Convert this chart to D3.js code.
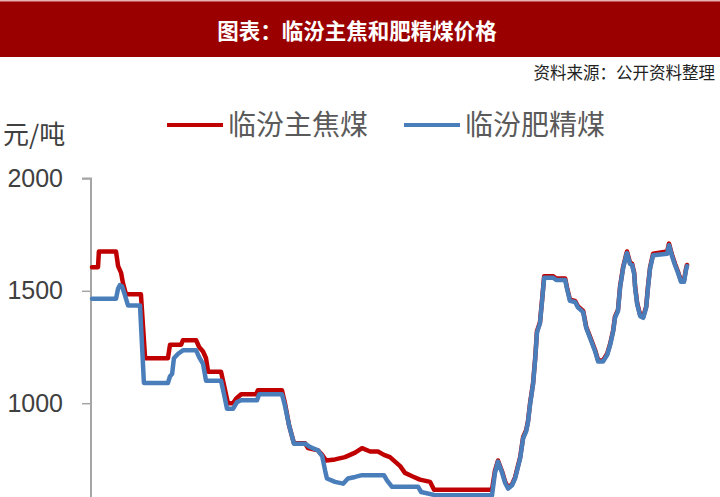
<!DOCTYPE html>
<html><head><meta charset="utf-8">
<script src="https://cdn.jsdelivr.net/npm/d3@7"></script>
<style>
html,body{margin:0;padding:0;background:#fff;}
svg{display:block;}
</style></head>
<body>
<svg id="c" width="720" height="497"></svg>
<script>
const titleText = "图表：临汾主焦和肥精煤价格";
const sourceText = "资料来源：公开资料整理";
const unitText = "元/吨";
const seriesNames = ["临汾主焦煤", "临汾肥精煤"];
const yTicks = [1000, 1500, 2000];

// week index and price (元/吨) for 临汾主焦煤
const cokingWeek = [0,2,2.3,8,8.7,9.7,10.3,11.3,16.3,17.7,25.3,26,29.7,30.3,34.7,35.7,37,38,38.7,43,44,45.3,47,48,49.7,54.7,55.3,63.3,64.3,65.7,67.3,71,72,75.3,76.7,78,81,84.3,87.7,90,92.7,95.3,97.3,99.3,101,102.7,104.3,106.7,109.3,112.7,114,133.3,134.3,135.3,136.7,137.7,138.7,140,141,142.7,143.7,144.7,145.3,146,147,147.7,148.3,149.3,150,150.7,153.7,154.7,157.7,158.3,159.3,161,162,163.7,164.7,166,167.7,168.7,170.3,171.7,172.7,173.7,174.3,175.3,176,177,178,178.3,179.3,180,180.7,181,181.7,182.7,183.7,184.7,185.3,186,187,191.7,192.3,193.3,194.3,195.3,196.3,197.3,198,198.3];
const cokingPrice = [1605,1605,1675,1675,1610,1580,1535,1485,1485,1200,1200,1260,1260,1280,1280,1250,1230,1200,1140,1140,1080,1000,1000,1020,1040,1040,1058,1058,1000,900,822,822,800,790,770,745,750,760,780,800,785,785,770,760,740,720,690,675,660,650,615,615,700,745,695,650,625,640,670,760,850,880,920,1000,1090,1200,1320,1360,1460,1565,1565,1555,1555,1515,1460,1455,1430,1410,1340,1295,1235,1190,1190,1220,1265,1325,1385,1415,1520,1605,1660,1675,1625,1620,1580,1520,1445,1392,1385,1430,1520,1605,1665,1675,1710,1660,1620,1585,1545,1545,1600,1615];

// week index and price (元/吨) for 临汾肥精煤
const fatWeek = [0,8,8.7,9.3,10,11,12,16,16.7,17.3,25.3,26,26.7,27.3,28.7,30.3,34.7,35.7,37,38,43,44,45,47,48.3,49.7,55,55.7,63.3,64.3,65.7,67.3,71,72.7,75.3,76.7,77.7,78.3,81,83.7,85.3,87.7,90,97.3,98.3,100,108.7,109.7,114.7,133.3,134.3,135.3,136.7,137.7,138.7,140,141,142.7,143.7,144.7,145.3,146,147,147.7,148.3,149.3,150,150.7,153.7,154.7,157.7,158.3,159.3,161,162,163.7,164.7,166,167.7,168.7,170.3,171.7,172.7,173.7,174.3,175.3,176,177,178,178.3,179.3,180,180.7,181,181.7,182.7,183.7,184.7,185.3,186,187,191.7,192.3,193.3,194.3,195.3,196.3,197.3,198,198.3];
const fatPrice = [1465,1465,1510,1525,1520,1480,1435,1435,1250,1090,1090,1120,1130,1200,1220,1235,1235,1205,1175,1100,1100,1040,975,975,1005,1013,1013,1040,1040,990,900,820,820,805,790,765,700,665,650,642,665,672,680,680,657,628,628,605,590,590,690,740,690,645,620,635,665,755,845,875,915,995,1085,1195,1315,1355,1455,1558,1558,1548,1548,1510,1455,1450,1425,1405,1335,1290,1230,1185,1185,1215,1260,1320,1380,1410,1515,1600,1655,1668,1620,1615,1575,1515,1440,1387,1380,1425,1515,1600,1658,1665,1703,1655,1615,1580,1540,1540,1595,1610];

const colors = ["#c00000", "#4a7ebb"];

const svg = d3.select("#c");
const cjk = "'Noto Sans CJK SC','Noto Sans',sans-serif";

// title band
svg.append("rect").attr("x",0).attr("y",0).attr("width",720).attr("height",57).attr("fill","#9a0000");
svg.append("rect").attr("x",0).attr("y",0).attr("width",720).attr("height",1.5).attr("fill","#e8b0b0");
svg.append("text").attr("x",357).attr("y",29).attr("text-anchor","middle").attr("dominant-baseline","central")
  .attr("fill","#fff").attr("font-family",cjk).attr("font-weight","bold").attr("font-size",21.5).text(titleText);
svg.append("text").attr("x",715).attr("y",72).attr("text-anchor","end").attr("dominant-baseline","central")
  .attr("fill","#222").attr("font-family",cjk).attr("font-size",16.5).text(sourceText);

// scales
const x = d3.scaleLinear().domain([0, 198.3]).range([92, 687]);
const y = d3.scaleLinear().domain([500, 2000]).range([515.6, 178.4]);

// unit
svg.append("text").attr("x",3).attr("y",132).attr("dominant-baseline","central")
  .attr("fill","#404040").attr("font-family",cjk).attr("font-size",26).text(unitText);

// y axis
const yAxis = d3.axisLeft(y).tickValues(yTicks).tickSize(9).tickPadding(19).tickFormat(d3.format("d"));
const ga = svg.append("g").attr("transform","translate(91,0)").call(yAxis);
ga.select(".domain").attr("stroke","#a6a6a6").attr("stroke-width",2).attr("d","M-9,"+y(2000)+"H0V497");
ga.selectAll(".tick line").attr("stroke","#a6a6a6").attr("stroke-width",1.5);
ga.selectAll(".tick text").attr("fill","#404040").attr("font-family","'Liberation Sans',Arial,sans-serif").attr("font-size",25);

// lines
const seriesData = [
  d3.zip(cokingWeek, cokingPrice),
  d3.zip(fatWeek, fatPrice)
];
const line = d3.line().x(d => x(d[0])).y(d => y(d[1]));
seriesData.forEach((s,i) => {
  svg.append("path").datum(s).attr("d", line).attr("fill","none")
    .attr("stroke", colors[i]).attr("stroke-width", 4.5).attr("stroke-linejoin","round").attr("stroke-linecap","round");
});

// legend
const legendX = [167, 404];
seriesNames.forEach((n,i) => {
  svg.append("line").attr("x1",legendX[i]).attr("x2",legendX[i]+56).attr("y1",125).attr("y2",125)
    .attr("stroke",colors[i]).attr("stroke-width",4);
  svg.append("text").attr("x",legendX[i]+61).attr("y",123).attr("dominant-baseline","central")
    .attr("fill","#5a5a5a").attr("font-family",cjk).attr("font-size",28).text(n);
});
</script>
</body></html>
